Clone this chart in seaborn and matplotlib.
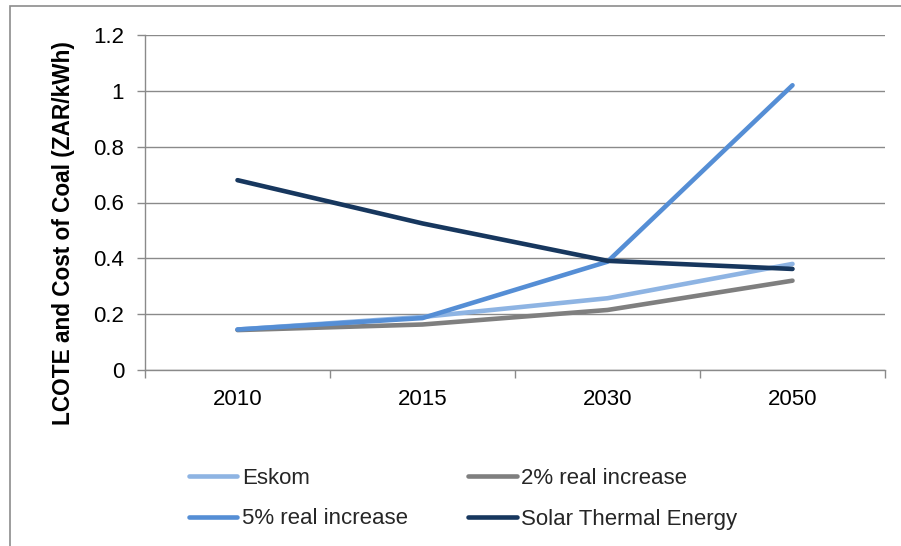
import matplotlib
matplotlib.use("Agg")
import matplotlib.pyplot as plt
from matplotlib.patches import Rectangle
from matplotlib.ticker import FixedLocator
import seaborn as sns
import pandas as pd

# Cost series (ZAR/kWh) per scenario year
years = ["2010", "2015", "2030", "2050"]
eskom = [0.145, 0.190, 0.257, 0.380]
real_2pct = [0.143, 0.163, 0.215, 0.320]
real_5pct = [0.145, 0.186, 0.388, 1.020]
solar_thermal = [0.680, 0.525, 0.391, 0.362]

series_names = ["Eskom", "2% real increase", "5% real increase", "Solar Thermal Energy"]
series_values = [eskom, real_2pct, real_5pct, solar_thermal]
colors = ["#8EB4E3", "#7F7F7F", "#558ED5", "#17375E"]
y_ticks = [0, 0.2, 0.4, 0.6, 0.8, 1.0, 1.2]
y_tick_labels = ["0", "0.2", "0.4", "0.6", "0.8", "1", "1.2"]

rows = []
for name, vals in zip(series_names, series_values):
    for yr, v in zip(years, vals):
        rows.append({"Year": yr, "Cost": v, "Series": name})
df = pd.DataFrame(rows)

sns.set_theme(style="white")
plt.rcParams["font.family"] = ["Liberation Sans", "DejaVu Sans"]

W, H = 901, 546
fig = plt.figure(figsize=(W / 100, H / 100), dpi=100)
ax = fig.add_axes([145 / W, 1 - 370 / H, (885 - 145) / W, (370 - 35) / H])

grid_color = "#8A8A8A"

sns.lineplot(
    data=df, x="Year", y="Cost", hue="Series", hue_order=series_names,
    palette=colors, sort=False, linewidth=3.3, ax=ax, legend=True,
    solid_capstyle="round", solid_joinstyle="round",
)

ax.set_xlim(-0.5, len(years) - 0.5)
ax.set_ylim(0, 1.2)
ax.set_yticks(y_ticks)
ax.set_yticklabels(y_tick_labels)
ax.set_xticks(range(len(years)))
ax.set_xticklabels(years)
ax.xaxis.set_minor_locator(FixedLocator([i - 0.5 for i in range(len(years) + 1)]))

ax.tick_params(axis="x", which="major", length=0, pad=14, labelsize=16, colors="black")
ax.tick_params(axis="x", which="minor", bottom=True, length=6, width=1.0, color=grid_color)
ax.tick_params(axis="y", which="major", left=True, length=6, width=1.0, color=grid_color,
               pad=9, labelsize=16, labelcolor="black")

ax.grid(axis="y", color=grid_color, linewidth=1.0)
ax.grid(axis="x", visible=False)
ax.set_axisbelow(True)
for side in ["top", "right"]:
    ax.spines[side].set_visible(False)
for side in ["left", "bottom"]:
    ax.spines[side].set_color(grid_color)
    ax.spines[side].set_linewidth(1.0)

ax.set_xlabel("")
ax.set_ylabel("LCOTE and Cost of Coal (ZAR/kWh)", fontsize=16.3, fontweight="bold",
              color="black")
ax.yaxis.set_label_coords(-(145 - 75) / (885 - 145), (370 - 233) / (370 - 35))

handles, labels = ax.get_legend_handles_labels()
ax.get_legend().remove()
order = [0, 2, 1, 3]
fig.legend(
    [handles[i] for i in order], [labels[i] for i in order],
    loc="center", bbox_to_anchor=(463 / W, 1 - 498.5 / H), ncol=2, frameon=False,
    fontsize=16, handlelength=2.2, handletextpad=0.2, columnspacing=2.7,
    labelspacing=0.9,
)

fig.add_artist(Rectangle((9.5 / W, -0.2), 1.2, 1.2 - 5.5 / H, transform=fig.transFigure,
                         fill=False, edgecolor="#8C8C8C", linewidth=1.2))

fig.savefig("out.png", dpi=100)
